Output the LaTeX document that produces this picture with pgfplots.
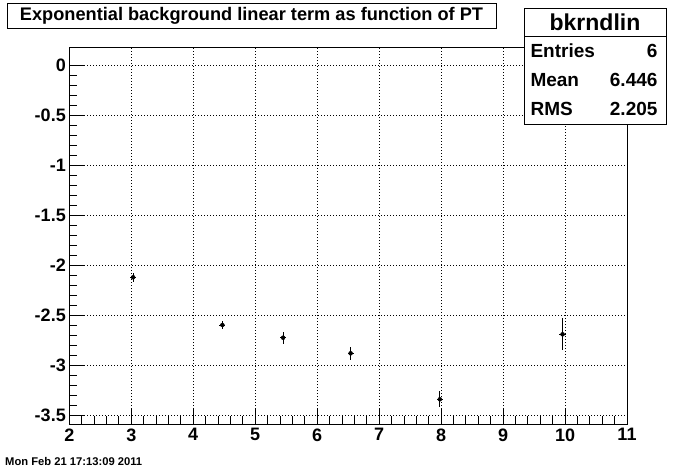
\documentclass[border=0pt]{standalone}
\usepackage{pgfplots}
\pgfplotsset{compat=1.18}
\usepackage{fontspec}
\setmainfont{Liberation Sans}
\begin{document}
\begin{tikzpicture}[x=1pt,y=1pt]
\useasboundingbox (0,0) rectangle (696,472);
\fill[white] (0,0) rectangle (696,472);
\begin{axis}[
  at={(69.3pt,48pt)}, anchor=south west,
  scale only axis, width=557.7pt, height=376pt,
  xmin=2, xmax=11, ymin=-3.59, ymax=0.17,
  xtick={2,3,4,5,6,7,8,9,10,11},
  ytick={-3.5,-3,-2.5,-2,-1.5,-1,-0.5,0},
  minor x tick num=4, minor y tick num=4,
  xtick pos=bottom, ytick pos=left, tick align=inside,
  major tick length=16pt, minor tick length=8pt,
  grid=major,
  major grid style={black, line width=0.7pt, dash pattern=on 0.9pt off 2.1pt},
  axis line style={line width=1pt},
  tick style={black, line width=0.8pt},
  /pgf/number format/assume math mode=true,
  ticklabel style={font=\fontsize{18}{18}\selectfont\bfseries},
  xticklabel style={yshift=-1pt},
  yticklabel style={/pgf/number format/.cd, fixed, precision=1},
]
\addplot[only marks, mark=none, black,
  error bars/.cd, x dir=both, x explicit, y dir=both, y explicit,
  error mark=none, error bar style={black, line width=0.8pt}]
  coordinates {
   (3.03,-2.123) +- (0.05,0.045)
   (4.47,-2.600) +- (0.05,0.04)
   (5.45,-2.727) +- (0.05,0.058)
   (6.54,-2.883) +- (0.05,0.067)
   (7.98,-3.343) +- (0.05,0.08)
   (9.96,-2.693) +- (0.05,0.16)
  };
\end{axis}
\node[draw, line width=0.9pt, fill=white, minimum width=489pt, minimum height=25pt, inner sep=0pt] at (251.5,456.5)
  {\fontsize{18.2}{18.2}\selectfont\bfseries Exponential background linear term as function of PT};
\draw[line width=0.9pt, fill=white] (524,348) rectangle (666,464);
\draw[line width=0.9pt] (524,436) -- (666,436);
\node at (595,450) {\fontsize{23}{23}\selectfont\bfseries bkrndlin};
\node[anchor=west] at (527,421) {\fontsize{19}{19}\selectfont\bfseries Entries};
\node[anchor=east] at (661,421) {\fontsize{19}{19}\selectfont\bfseries 6};
\node[anchor=west] at (527,392) {\fontsize{19}{19}\selectfont\bfseries Mean};
\node[anchor=east] at (661,392) {\fontsize{19}{19}\selectfont\bfseries 6.446};
\node[anchor=west] at (527,363) {\fontsize{19}{19}\selectfont\bfseries RMS};
\node[anchor=east] at (661,363) {\fontsize{19}{19}\selectfont\bfseries 2.205};
\node[anchor=west, inner sep=0pt] at (5,10) {\fontsize{11.2}{11.2}\selectfont\bfseries Mon Feb 21 17:13:09 2011};
\end{tikzpicture}
\end{document}
